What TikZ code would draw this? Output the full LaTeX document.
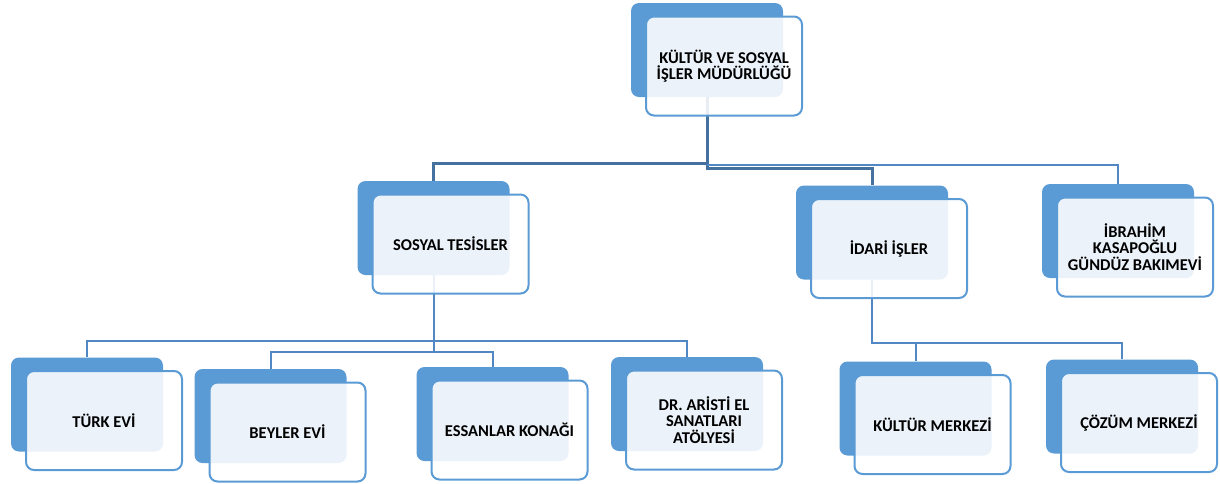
\documentclass[tikz,border=0pt]{standalone}
\usepackage{fontspec}
\setmainfont{Carlito}
\definecolor{boxblue}{HTML}{5B9BD5}
\definecolor{linkblue}{HTML}{5187C2}
\definecolor{toplink}{HTML}{44719F}
\begin{document}
\begin{tikzpicture}[x=1pt,y=-1pt,
  back/.style={rectangle,rounded corners=8pt,fill=boxblue,minimum width=152pt,minimum height=94pt},
  front/.style={rectangle,rounded corners=8pt,draw=boxblue,line width=2pt,preaction={fill=white,fill opacity=0.88},
    minimum width=156pt,minimum height=99pt,align=center,text=black,font=\fontsize{16.5}{16.5}\selectfont\bfseries},
  link/.style={draw=linkblue,line width=2pt}]
  \useasboundingbox (0,0) rectangle (1220,483);
  % blue back shapes:
  \foreach \n/\x/\y in {top/707/50, sos/433.5/228, ida/872/232.5, ibr/1118/231,
      turk/87/404.5, bey/270.5/416, ess/492.5/414, dr/687/404, kul/915.5/408.5, coz/1122/406.5}
    \node[back] (\n) at (\x,\y) {};
  % links from the top box:
  \draw[link,draw=toplink,line width=3pt] (top.south) -- (top.south |- 0,163) -| (sos.north);
  \draw[link,draw=toplink,line width=3pt] (top.south) -- (top.south |- 0,168) -| (ida.north);
  \draw[link] (top.south |- 0,165) -| (ibr.north);
  % links below sosyal tesisler:
  \draw[link] (sos.south) -- (sos.south |- 0,341) -| (turk.north);
  \draw[link] (sos.south |- 0,341) -| (dr.north);
  \draw[link] (sos.south) -- (sos.south |- 0,352) -| (bey.north);
  \draw[link] (sos.south |- 0,352) -| (ess.north);
  % links below idari isler:
  \draw[link] (ida.south) -- (ida.south |- 0,343) -| (kul.north);
  \draw[link] (ida.south |- 0,343) -| (coz.north);
  % front boxes with the texts:
  \foreach \n/\t in {top/{KÜLTÜR VE SOSYAL\\İŞLER MÜDÜRLÜĞÜ}, sos/{SOSYAL TESİSLER}, ida/{İDARİ İŞLER},
      ibr/{İBRAHİM\\KASAPOĞLU\\GÜNDÜZ BAKIMEVİ}, turk/{TÜRK EVİ}, bey/{BEYLER EVİ}, ess/{ESSANLAR KONAĞI},
      dr/{DR. ARİSTİ EL\\SANATLARI\\ATÖLYESİ}, kul/{KÜLTÜR MERKEZİ}, coz/{ÇÖZÜM MERKEZİ}}
    \node[front] (\n-f) at ([shift={(17,16)}]\n.center) {\t};
\end{tikzpicture}
\end{document}
